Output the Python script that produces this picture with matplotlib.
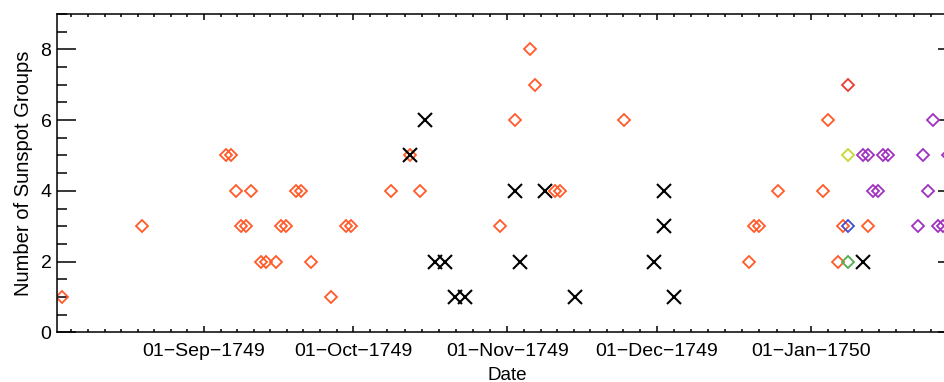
import datetime
import numpy as np
import matplotlib
matplotlib.use('Agg')
import matplotlib.pyplot as plt
import matplotlib.dates as mdates
from matplotlib.ticker import MultipleLocator, FixedLocator, FuncFormatter

# observer series: dates and number of sunspot groups
orange_dates = ['1749-08-03', '1749-08-19', '1749-09-05', '1749-09-06', '1749-09-07',
                '1749-09-08', '1749-09-09', '1749-09-10', '1749-09-12', '1749-09-13',
                '1749-09-15', '1749-09-16', '1749-09-17', '1749-09-19', '1749-09-20',
                '1749-09-22', '1749-09-26', '1749-09-29', '1749-09-30', '1749-10-08',
                '1749-10-12', '1749-10-14', '1749-10-30', '1749-11-02', '1749-11-05',
                '1749-11-06', '1749-11-10', '1749-11-11', '1749-11-24', '1749-12-19',
                '1749-12-20', '1749-12-21', '1749-12-25', '1750-01-03', '1750-01-04',
                '1750-01-06', '1750-01-07', '1750-01-12']
orange_groups = [1, 3, 5, 5, 4,
                 3, 3, 4, 2, 2,
                 2, 3, 3, 4, 4,
                 2, 1, 3, 3, 4,
                 5, 4, 3, 6, 8,
                 7, 4, 4, 6, 2,
                 3, 3, 4, 4, 6,
                 2, 3, 3]

red_dates = ['1750-01-08']
red_groups = [7]
yellow_dates = ['1750-01-08']
yellow_groups = [5]
blue_dates = ['1750-01-08']
blue_groups = [3]
green_dates = ['1750-01-08']
green_groups = [2]

purple_dates = ['1750-01-11', '1750-01-12', '1750-01-13', '1750-01-14', '1750-01-15',
                '1750-01-16', '1750-01-22', '1750-01-23', '1750-01-24', '1750-01-25',
                '1750-01-26', '1750-01-27', '1750-01-28']
purple_groups = [5, 5, 4, 4, 5,
                 5, 3, 5, 4, 6,
                 3, 3, 5]

cross_dates = ['1749-10-12', '1749-10-15', '1749-10-17', '1749-10-19', '1749-10-21',
               '1749-10-23', '1749-11-02', '1749-11-03', '1749-11-08', '1749-11-14',
               '1749-11-30', '1749-12-02', '1749-12-02', '1749-12-04', '1750-01-11']
cross_groups = [5, 6, 2, 2, 1,
                1, 4, 2, 4, 1,
                2, 4, 3, 1, 2]

month_starts = ['1749-09-01', '1749-10-01', '1749-11-01', '1749-12-01', '1750-01-01', '1750-02-01']


def to_num(dates):
    # observations plotted at local noon
    return [mdates.date2num(datetime.datetime.strptime(d, '%Y-%m-%d') + datetime.timedelta(hours=12))
            for d in dates]


def day_num(d):
    return mdates.date2num(datetime.datetime.strptime(d, '%Y-%m-%d'))


def date_label(x, pos):
    return mdates.num2date(x).strftime('%d-%b-%Y').replace('-', '\u2212')


plt.rcParams['font.family'] = ['Liberation Sans', 'DejaVu Sans']
plt.rcParams['font.size'] = 14

fig = plt.figure(figsize=(9.45, 3.82), dpi=100)
ax = fig.add_axes([0.0603, 0.1301, 0.9524, 0.8332])

dkw = dict(linestyle='none', marker='D', markersize=6.6, markerfacecolor='none', markeredgewidth=1.3)
ax.plot(to_num(orange_dates), orange_groups, markeredgecolor='#FF5A28', **dkw)
ax.plot(to_num(red_dates), red_groups, markeredgecolor='#EE3A32', **dkw)
ax.plot(to_num(yellow_dates), yellow_groups, markeredgecolor='#C8D830', **dkw)
ax.plot(to_num(blue_dates), blue_groups, markeredgecolor='#3F4FCF', **dkw)
ax.plot(to_num(green_dates), green_groups, markeredgecolor='#4CB04C', **dkw)
ax.plot(to_num(purple_dates), purple_groups, markeredgecolor='#A030C0', **dkw)
ax.plot(to_num(cross_dates), cross_groups, linestyle='none', marker='x', markersize=10.6,
        markeredgecolor='black', markeredgewidth=1.5)

# x range and ticks
sep1 = day_num('1749-09-01')
jan1 = day_num('1750-01-01')
ax.set_xlim(sep1 - 29.56, jan1 + 29.4)
ax.set_ylim(0, 9)

majors = [day_num(d) for d in month_starts]
minors = []
step0 = (majors[1] - majors[0]) / 9.0
for k in range(1, 12):
    minors.append(majors[0] - k * step0)
for a, b in zip(majors[:-1], majors[1:]):
    for k in range(1, 9):
        minors.append(a + k * (b - a) / 9.0)

ax.xaxis.set_major_locator(FixedLocator(majors))
ax.xaxis.set_minor_locator(FixedLocator(minors))
ax.xaxis.set_major_formatter(FuncFormatter(date_label))
ax.yaxis.set_major_locator(MultipleLocator(2))
ax.yaxis.set_minor_locator(MultipleLocator(0.5))

ax.tick_params(axis='x', which='both', direction='in', top=True, bottom=True, width=1.1, pad=8)
ax.tick_params(axis='x', which='major', length=4.5)
ax.tick_params(axis='x', which='minor', length=2.2)
ax.tick_params(axis='y', which='both', direction='in', left=True, right=True, width=1.1, pad=4)
ax.tick_params(axis='y', which='major', length=13.7)
ax.tick_params(axis='y', which='minor', length=7.2)
for s in ax.spines.values():
    s.set_linewidth(1.1)

ax.set_xlabel('Date', fontsize=13.5)
ax.xaxis.set_label_coords(0.5, -0.108)
ax.set_ylabel('Number of Sunspot Groups', fontsize=14.5, labelpad=5)

plt.savefig('out.png', dpi=100)
